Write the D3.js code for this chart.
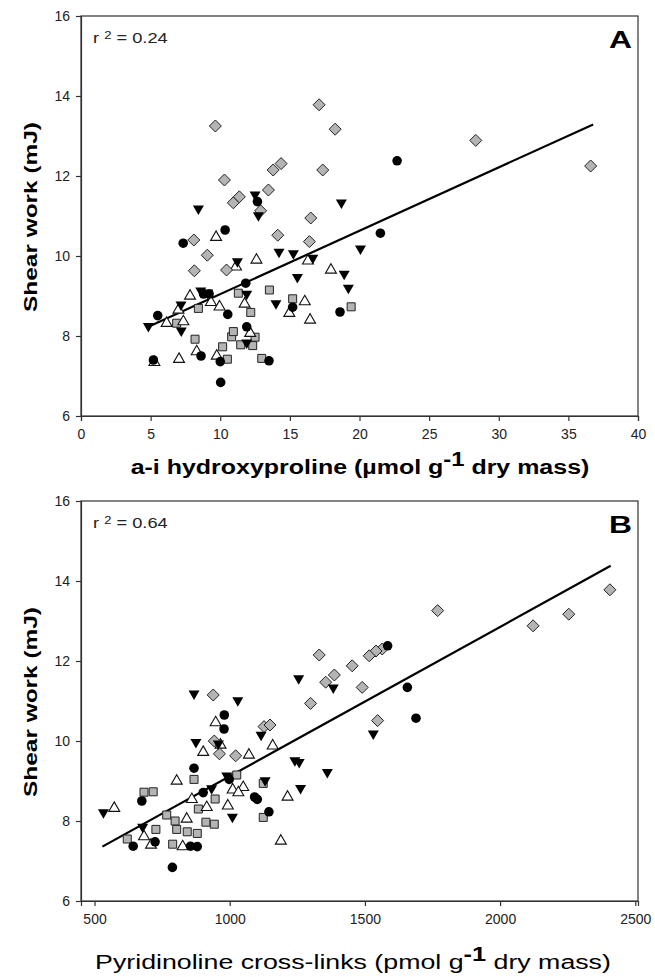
<!DOCTYPE html>
<html><head><meta charset="utf-8">
<script src="https://cdn.jsdelivr.net/npm/d3@7"></script>
<style>body{margin:0;background:#fff}svg{display:block}</style>
</head><body>
<svg id="c" width="655" height="977"></svg>
<script>
// ---------- Panel A data: a-i hydroxyproline vs shear work ----------
const aCircles = [[5.2,7.4],[5.51,8.51],[7.34,10.32],[8.62,7.5],[8.8,9.05],[9.2,9.05],[10.0,7.36],[10.03,6.84],[10.35,10.65],[10.54,8.54],[11.83,9.32],[11.9,8.23],[12.67,11.36],[13.5,7.38],[15.2,8.72],[18.6,8.6],[21.5,10.57],[22.7,12.38]];
const aDown = [[4.84,8.21],[7.2,8.1],[7.18,8.75],[8.43,11.15],[8.6,9.1],[9.1,9.05],[11.23,9.83],[11.9,9.02],[11.9,7.8],[12.5,11.5],[12.74,10.98],[14.0,8.78],[14.22,10.07],[15.25,10.03],[15.54,9.44],[16.65,9.92],[18.7,11.3],[18.9,9.52],[19.2,9.17],[20.07,10.15]];
const aUp = [[5.27,7.34],[6.15,8.32],[7.04,7.42],[7.35,8.36],[7.0,8.65],[7.83,9.0],[8.31,7.61],[9.33,8.84],[9.7,10.47],[9.75,7.5],[9.95,8.73],[11.13,9.73],[11.75,8.8],[12.15,8.07],[12.6,9.9],[14.96,8.57],[16.07,8.86],[16.3,9.88],[16.45,8.4],[17.95,9.65]];
const aSquares = [[6.87,8.32],[8.19,7.92],[8.43,8.69],[10.17,7.73],[10.51,7.42],[10.82,7.98],[10.94,8.11],[11.3,9.07],[11.47,7.78],[12.19,8.59],[12.33,7.76],[12.5,7.97],[12.98,7.44],[13.53,9.15],[15.2,8.93],[19.4,8.73]];
const aDiamonds = [[8.1,10.4],[8.14,9.63],[9.07,10.02],[9.65,13.25],[10.3,11.9],[10.45,9.65],[10.94,11.33],[11.37,11.48],[12.9,11.13],[13.46,11.65],[13.8,12.15],[14.37,12.31],[14.13,10.52],[16.4,10.36],[16.5,10.95],[17.1,13.78],[17.36,12.15],[18.25,13.17],[28.35,12.89],[36.6,12.25]];
const aFit = [[4.72,8.21],[36.78,13.29]];
const aXTicks = [0,5,10,15,20,25,30,35,40];

// ---------- Panel B data: pyridinoline cross-links vs shear work ----------
const bCircles = [[1584,12.38],[1657,11.34],[1689,10.57],[980,10.65],[979,10.3],[868,9.32],[998,9.04],[902,8.71],[675,8.5],[1092,8.6],[1102,8.54],[1145,8.23],[643,7.37],[724,7.48],[855,7.37],[880,7.36],[788,6.84]];
const bDown = [[868,11.15],[1030,10.98],[1255,11.53],[1383,11.3],[1116,10.12],[1531,10.15],[875,9.94],[958,9.9],[989,9.1],[933,8.78],[1010,8.07],[533,8.18],[678,7.82],[1241,9.48],[1257,9.44],[1361,9.19],[1131,8.98],[1262,8.79]];
const bUp = [[948,10.46],[902,9.72],[1071,9.65],[1159,9.88],[804,9.0],[573,8.32],[1011,8.78],[1050,8.84],[1032,8.71],[860,8.54],[915,8.34],[993,8.38],[841,8.05],[683,7.61],[709,7.4],[826,7.36],[1214,8.6],[1189,7.5],[966,9.9]];
const bSquares = [[868,9.04],[683,8.72],[717,8.73],[1026,9.15],[946,8.55],[884,8.3],[767,8.15],[798,8.0],[804,7.79],[843,7.73],[880,7.69],[912,7.97],[943,7.92],[727,7.79],[621,7.55],[789,7.42],[1124,8.94],[1124,8.09]];
const bDiamonds = [[2406,13.78],[2254,13.17],[2122,12.88],[1769,13.26],[1564,12.3],[1541,12.25],[1516,12.13],[1453,11.88],[1331,12.15],[1387,11.65],[1355,11.47],[1490,11.34],[1299,10.94],[1547,10.51],[1127,10.36],[1149,10.4],[939,11.15],[943,10.0],[962,9.68],[1022,9.63]];
const bFit = [[529,7.36],[2409,14.38]];
const bXTicks = [500,1000,1500,2000,2500];

const yTicks = [6,8,10,12,14,16];

const svg = d3.select('#c');
const mainFont = '"Liberation Sans",Arial,sans-serif';

// place a text so that it is horizontally stretched to a target length
function stretched(parent, tx, ty, rot, anchor, target, build){
  const g = parent.append('g').attr('transform',`translate(${tx},${ty}) rotate(${rot})`);
  const inner = g.append('g');
  const t = inner.append('text').attr('text-anchor',anchor).attr('font-family',mainFont);
  build(t);
  const w = t.node().getBBox().width;
  inner.attr('transform',`scale(${target/w},1)`);
  return t;
}

function panel(opt){
  const x = d3.scaleLinear().domain(opt.xDomain).range([81,638]);
  const y = d3.scaleLinear().domain([6,16]).range([opt.bottom, opt.bottom-400]);
  const g = svg.append('g');
  g.append('rect').attr('x',81).attr('y',opt.bottom-400).attr('width',557).attr('height',400)
    .attr('fill','none').attr('stroke','#333').attr('stroke-width',1.2);
  const xa = g.append('g').attr('transform',`translate(0,${opt.bottom})`)
    .call(d3.axisBottom(x).tickValues(opt.xTicks).tickSize(5).tickPadding(8).tickFormat(d3.format('d')));
  const ya = g.append('g').attr('transform','translate(81,0)')
    .call(d3.axisLeft(y).tickValues(yTicks).tickSize(5).tickPadding(6));
  [xa,ya].forEach(a=>{
    a.select('.domain').attr('stroke','#333').attr('stroke-width',1.2);
    a.selectAll('.tick line').attr('stroke','#333').attr('stroke-width',1.2);
    a.selectAll('.tick text').attr('font-family',mainFont).attr('font-size',14).attr('fill','#222');
  });
  g.append('path').attr('d',d3.line().x(d=>x(d[0])).y(d=>y(d[1]))(opt.fit))
    .attr('stroke','#000').attr('stroke-width',2.2).attr('fill','none');
  const sym = (type,size)=>d3.symbol().type(type).size(size)();
  function pts(data, draw){
    g.append('g').selectAll('path').data(data).join('path')
      .attr('transform',d=>`translate(${x(d[0])},${y(d[1])})`).call(draw);
  }
  pts(opt.squares, s=>s.attr('d',sym(d3.symbolSquare,64)).attr('fill','#b4b4b4').attr('stroke','#222').attr('stroke-width',1));
  pts(opt.up, s=>s.attr('d',sym(d3.symbolTriangle,52)).attr('fill','#fff').attr('stroke','#111').attr('stroke-width',1.1));
  pts(opt.diamonds, s=>s.attr('d','M0,-6L6,0L0,6L-6,0Z').attr('fill','#b4b4b4').attr('stroke','#222').attr('stroke-width',1));
  pts(opt.down, s=>s.attr('d','M-5.5,-4.5L5.5,-4.5L0,5Z').attr('fill','#000'));
  pts(opt.circles, s=>s.attr('d',sym(d3.symbolCircle,72)).attr('fill','#000'));

  // r² annotation
  stretched(g, 93, opt.bottom-373, 0, 'start', 75, t=>{
    t.attr('font-size',14).attr('fill','#222');
    t.append('tspan').text('r ');
    t.append('tspan').attr('font-size',10).attr('dy',-4).text('2');
    t.append('tspan').attr('dy',4).text(' = '+opt.r2);
  });
  // panel letter
  stretched(g, 632, opt.bottom-368, 0, 'end', 23, t=>{
    t.attr('font-size',23).attr('font-weight','bold').text(opt.letter);
  });
  // y label
  stretched(g, 37, opt.bottom-199, -90, 'middle', 190, t=>{
    t.attr('font-size',19).attr('font-weight','bold').text('Shear work (mJ)');
  });
  // x label
  stretched(g, opt.xlx, opt.bottom+opt.xly, 0, 'middle', opt.xlwid, t=>{
    t.attr('font-size',21).attr('font-weight',opt.xlw);
    t.append('tspan').text(opt.xlabel[0]);
    t.append('tspan').attr('dy',-8).attr('font-size',20).attr('font-weight','bold').text('-1');
    t.append('tspan').attr('dy',8).text(opt.xlabel[1]);
  });
}

panel({xDomain:[0,40],xTicks:aXTicks,bottom:416,fit:aFit,circles:aCircles,down:aDown,up:aUp,squares:aSquares,diamonds:aDiamonds,
  r2:'0.24',letter:'A',xlabel:['a-i hydroxyproline (\u00b5mol g',' dry mass)'],xlx:360,xly:58,xlw:'bold',xlwid:459});
panel({xDomain:[450,2510],xTicks:bXTicks,bottom:901,fit:bFit,circles:bCircles,down:bDown,up:bUp,squares:bSquares,diamonds:bDiamonds,
  r2:'0.64',letter:'B',xlabel:['Pyridinoline cross-links (pmol g',' dry mass)'],xlx:353,xly:68,xlw:'normal',xlwid:516});
</script>
</body></html>
